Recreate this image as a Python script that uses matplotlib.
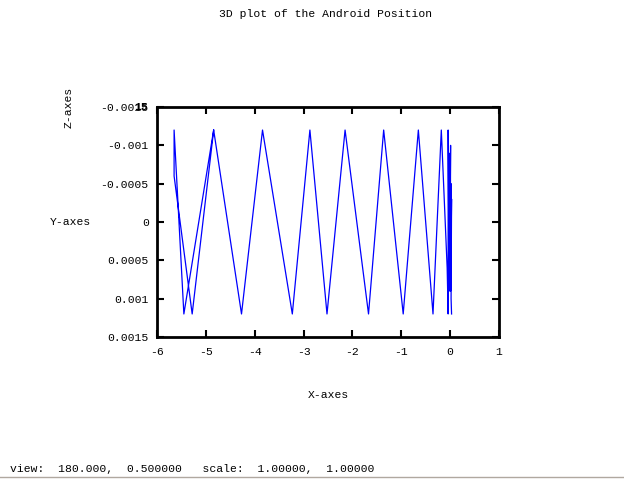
import matplotlib
matplotlib.use('Agg')
import matplotlib.pyplot as plt
import numpy as np

# Path of the device (x, then vertical axis value)
pos_x = [-4.84, -5.28, -5.65, -5.65, -5.45, -4.84, -4.27, -3.84, -3.23, -2.87,
         -2.52, -2.15, -1.67, -1.36, -0.96, -0.65, -0.35, -0.18, -0.06, -0.04,
         -0.04, -0.02, 0.0, -0.01, 0.01, 0.0, 0.02, 0.01, 0.03, 0.02, 0.03]
pos_z = [-0.0012, 0.0012, -0.0006, -0.0012, 0.0012, -0.0012, 0.0012, -0.0012, 0.0012, -0.0012,
         0.0012, -0.0012, 0.0012, -0.0012, 0.0012, -0.0012, 0.0012, -0.0012, 0.0006, 0.0012,
         -0.0012, 0.0009, -0.0009, 0.0008, -0.0010, 0.0009, -0.0005, 0.0009, -0.0003, 0.0010, 0.0012]

x_ticks = [-6, -5, -4, -3, -2, -1, 0, 1]
y_ticks = [-0.0015, -0.001, -0.0005, 0, 0.0005, 0.001, 0.0015]
y_labels = ['-0.0015', '-0.001', '-0.0005', '0', '0.0005', '0.001', '0.0015']

plt.rcParams['font.family'] = ['Liberation Mono', 'DejaVu Sans Mono']
plt.rcParams['font.size'] = 8.2

fig = plt.figure(figsize=(6.24, 4.8), dpi=100)
ax = fig.add_axes([0.2516, 0.298, 0.548, 0.479])

ax.plot(pos_x, pos_z, color='#0000ff', lw=0.9)

ax.set_xlim(-6, 1)
ax.set_ylim(0.0015, -0.0015)
ax.set_xticks(x_ticks)
ax.set_xticklabels([str(t) for t in x_ticks])
ax.set_yticks(y_ticks)
ax.set_yticklabels(y_labels)
ax.tick_params(direction='in', length=5, width=1.5, top=True, right=True,
               labelsize=8.2, colors='black')
ax.tick_params(axis='x', pad=7)
ax.tick_params(axis='y', pad=6)
for s in ax.spines.values():
    s.set_linewidth(2)

# overlapping z tick label in the corner, as in gnuplot output
fig.text(148 / 624, 1 - 107 / 480, '15', ha='right', va='center', fontsize=8.2, fontweight='bold')

fig.text(326 / 624, 1 - 14 / 480, '3D plot of the Android Position', ha='center', va='center')
fig.text(328 / 624, 1 - 395 / 480, 'X-axes', ha='center', va='center')
fig.text(70 / 624, 1 - 222 / 480, 'Y-axes', ha='center', va='center')
fig.text(69 / 624, 1 - 107 / 480, 'Z-axes', ha='center', va='center', rotation=90)

fig.text(10 / 624, 1 - 469 / 480, 'view:  180.000,  0.500000   scale:  1.00000,  1.00000',
         ha='left', va='center')
fig.add_artist(plt.Line2D([0, 1], [1 - 477 / 480] * 2, color='#b0a8a0', lw=1))

fig.savefig('out.png', dpi=100)
